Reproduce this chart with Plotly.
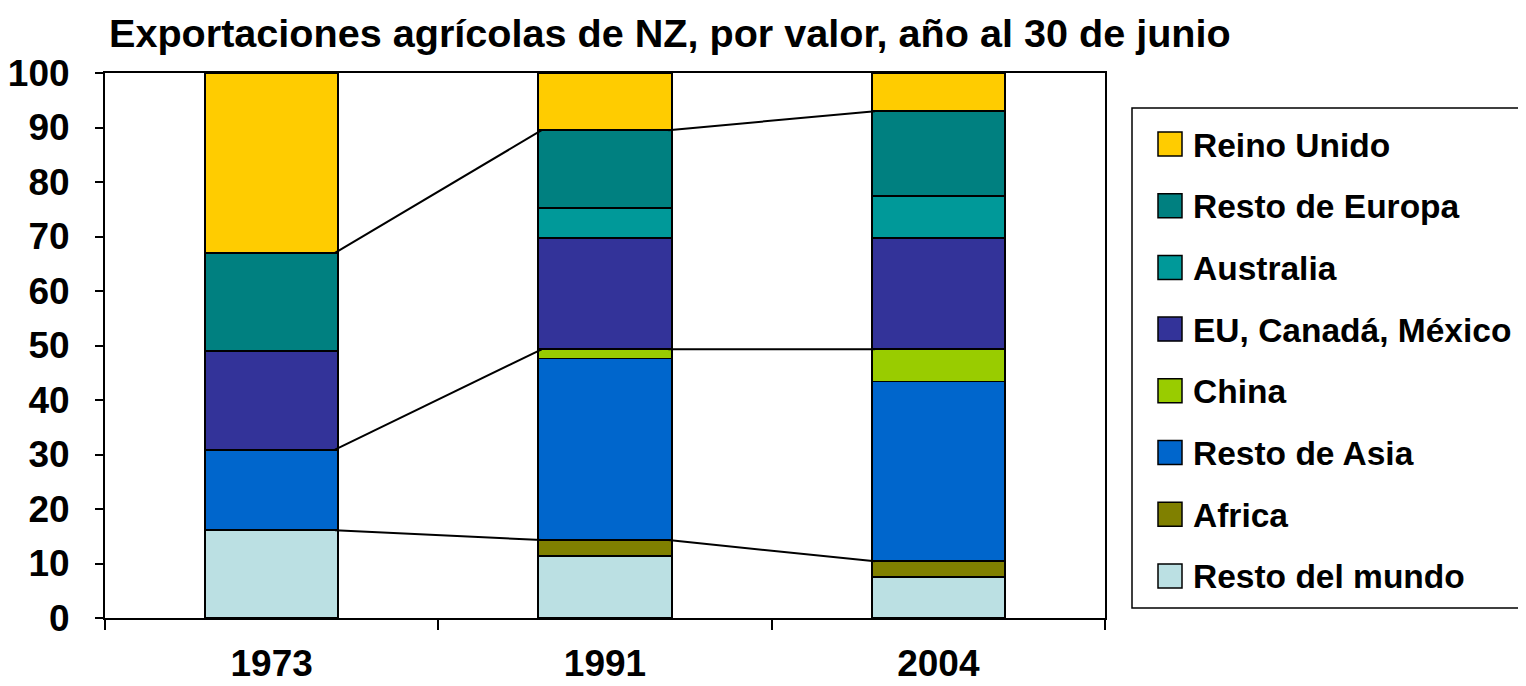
import plotly.graph_objects as go

years = ["1973", "1991", "2004"]
series_names = ["Resto del mundo", "Africa", "Resto de Asia", "China",
                "EU, Canadá, México", "Australia", "Resto de Europa", "Reino Unido"]
resto_mundo = [16.1, 11.4, 7.5]
africa = [0.0, 2.9, 2.9]
resto_asia = [14.8, 33.3, 33.0]
china = [0.0, 1.7, 5.9]
eu_can_mex = [18.1, 20.4, 20.4]
australia = [0.0, 5.6, 7.8]
resto_europa = [18.0, 14.2, 15.5]
reino_unido = [33.0, 10.5, 7.0]
colors = ["#BBE0E3", "#808000", "#0066CC", "#99CC00",
          "#333399", "#009999", "#008080", "#FFCC00"]
y_ticks = [0, 10, 20, 30, 40, 50, 60, 70, 80, 90, 100]
title_text = "Exportaciones agrícolas de NZ, por valor, año al 30 de junio"

values = [resto_mundo, africa, resto_asia, china, eu_can_mex, australia, resto_europa, reino_unido]
FONT = "Arial"
OFF = 8  # page body margin

fig = go.Figure()
for name, vals, col in zip(series_names, values, colors):
    fig.add_trace(go.Bar(x=years, y=vals, name=name, width=0.4,
                         marker=dict(color=col, line=dict(color="black", width=1.8)),
                         showlegend=False))

# cumulative levels for connector lines
cum = []
run = [0.0, 0.0, 0.0]
for vals in values:
    run = [r + v for r, v in zip(run, vals)]
    cum.append(list(run))
levels = [cum[1], cum[3], cum[6]]  # through Africa, through China, through Resto de Europa
shapes = []
for lv in levels:
    for i in range(len(years) - 1):
        shapes.append(dict(type="line", xref="x", yref="y",
                           x0=i + 0.19, y0=lv[i], x1=i + 1 - 0.19, y1=lv[i + 1],
                           line=dict(color="black", width=2)))

# screen-pixel helpers (reference coords) -> paper coords
L, R, T, B = 105, 1105, 73, 618
def px(x):
    return (x - L) / (R - L)
def py(y):
    return (B - y) / (B - T)

shapes.append(dict(type="rect", xref="paper", yref="paper",
                   x0=px(1132), x1=px(1524), y0=py(608), y1=py(108),
                   line=dict(color="black", width=1.5), fillcolor="white"))
annotations = []
legend_order = list(reversed(range(len(series_names))))
for k, idx in enumerate(legend_order):
    yc = 144 + k * 61.7
    shapes.append(dict(type="rect", xref="paper", yref="paper",
                       x0=px(1158), x1=px(1182), y0=py(yc + 12), y1=py(yc - 12),
                       line=dict(color="black", width=1.5), fillcolor=colors[idx]))
    annotations.append(dict(xref="paper", yref="paper", x=px(1191), y=py(yc + 1),
                            xanchor="left", yanchor="middle", showarrow=False,
                            text=series_names[idx],
                            font=dict(family=FONT, size=33.5, color="black", weight="bold")))

annotations.append(dict(xref="paper", yref="paper", x=px(107), y=py(33),
                        xanchor="left", yanchor="middle", showarrow=False,
                        text=title_text,
                        font=dict(family=FONT, size=39.6, color="black", weight="bold")))

fig.update_layout(
    barmode="stack",
    width=1526, height=686,
    margin=dict(l=L - OFF, r=1526 - R + OFF, t=T - OFF, b=686 - B + OFF),
    plot_bgcolor="white", paper_bgcolor="white",
    shapes=shapes, annotations=annotations,
    font=dict(family=FONT, color="black"),
    bargap=0.6,
)
fig.update_xaxes(type="category", showline=True, linecolor="black", linewidth=2,
                 mirror=True, ticks="outside", tickson="boundaries", ticklen=10,
                 tickwidth=1.5, tickcolor="black", showgrid=False, automargin=False,
                 tickfont=dict(family=FONT, size=37, color="black", weight="bold"),
                 ticklabelstandoff=12)
fig.update_yaxes(range=[0, 100], tickvals=y_ticks, showline=True, linecolor="black",
                 linewidth=2, mirror=True, ticks="outside", ticklen=8, tickwidth=1.5,
                 tickcolor="black", showgrid=False, zeroline=False, automargin=False,
                 tickfont=dict(family=FONT, size=37, color="black", weight="bold"),
                 ticklabelstandoff=18)

fig.write_html("out.html")
